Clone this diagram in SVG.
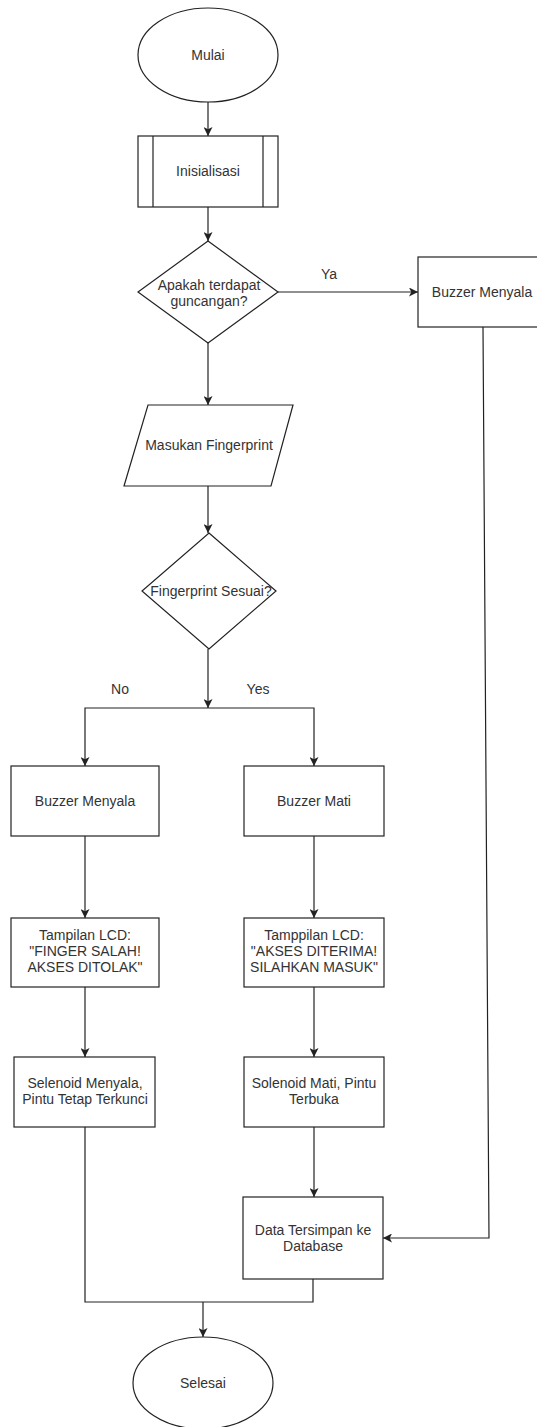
<svg xmlns="http://www.w3.org/2000/svg" width="537" height="1427" viewBox="0 0 537 1427">
<style>
.s{fill:#fff;stroke:#222;stroke-width:1.2}
.t{font-family:"Liberation Sans",Arial,sans-serif;font-size:14px;fill:#333;text-anchor:middle}
.c{fill:none;stroke:#222;stroke-width:1.2}
</style>
<defs>
<marker id="ah" viewBox="0 0 10 10" refX="10" refY="5" markerWidth="9" markerHeight="9" markerUnits="userSpaceOnUse" orient="auto">
<path d="M0,0 L10,5 L0,10 L2.5,5 z" fill="#222"/>
</marker>
</defs>
<rect width="537" height="1427" fill="#fff"/>
<g id="connectors">
<path class="c" d="M208,102 V136" marker-end="url(#ah)"/>
<path class="c" d="M208,207 V241" marker-end="url(#ah)"/>
<path class="c" d="M278,292 H418" marker-end="url(#ah)"/>
<path class="c" d="M208,343 V405" marker-end="url(#ah)"/>
<path class="c" d="M208,486 V533" marker-end="url(#ah)"/>
<path class="c" d="M208,649 V708" marker-end="url(#ah)"/>
<path class="c" d="M208,708 H85 V766" marker-end="url(#ah)"/>
<path class="c" d="M208,708 H314 V766" marker-end="url(#ah)"/>
<path class="c" d="M85,836 V918" marker-end="url(#ah)"/>
<path class="c" d="M85,987 V1057" marker-end="url(#ah)"/>
<path class="c" d="M314,836 V918" marker-end="url(#ah)"/>
<path class="c" d="M314,987 V1057" marker-end="url(#ah)"/>
<path class="c" d="M314,1127 V1197" marker-end="url(#ah)"/>
<path class="c" d="M483,327 L489,1238 H383" marker-end="url(#ah)"/>
<path class="c" d="M85,1127 V1302 H313 V1279"/>
<path class="c" d="M203,1302 V1337" marker-end="url(#ah)"/>
<text class="t" x="329" y="279">Ya</text>
<text class="t" x="120" y="694">No</text>
<text class="t" x="258" y="694">Yes</text>
</g>
<g id="mulai">
<ellipse class="s" cx="208" cy="55" rx="70" ry="47"/>
<text class="t" x="208" y="60">Mulai</text>
</g>
<g id="inisialisasi">
<rect class="s" x="138" y="136" width="140" height="71"/>
<path class="c" d="M153,136 V207 M263,136 V207"/>
<text class="t" x="208" y="176">Inisialisasi</text>
</g>
<g id="guncangan">
<polygon class="s" points="208,241 278,292 208,343 138,292"/>
<text class="t" x="209" y="290">Apakah terdapat</text>
<text class="t" x="209" y="306">guncangan?</text>
</g>
<g id="buzzer-ya">
<rect class="s" x="418" y="257" width="130" height="70"/>
<text class="t" x="482" y="297">Buzzer Menyala</text>
</g>
<g id="masukan">
<polygon class="s" points="148,405 293,405 271,486 124,486"/>
<text class="t" x="209" y="450">Masukan Fingerprint</text>
</g>
<g id="sesuai">
<polygon class="s" points="209,533 276,591 209,649 142,591"/>
<text class="t" x="211" y="596">Fingerprint Sesuai?</text>
</g>
<g id="buzzer-no">
<rect class="s" x="11" y="766" width="148" height="70"/>
<text class="t" x="85" y="806">Buzzer Menyala</text>
</g>
<g id="buzzer-mati">
<rect class="s" x="244" y="766" width="140" height="70"/>
<text class="t" x="314" y="806">Buzzer Mati</text>
</g>
<g id="lcd-no">
<rect class="s" x="11" y="918" width="148" height="69"/>
<text class="t" x="85" y="940">Tampilan LCD:</text>
<text class="t" x="85" y="956">"FINGER SALAH!</text>
<text class="t" x="85" y="972">AKSES DITOLAK"</text>
</g>
<g id="lcd-yes">
<rect class="s" x="244" y="918" width="140" height="69"/>
<text class="t" x="314" y="940">Tamppilan LCD:</text>
<text class="t" x="314" y="956">"AKSES DITERIMA!</text>
<text class="t" x="314" y="972">SILAHKAN MASUK"</text>
</g>
<g id="selenoid-no">
<rect class="s" x="14" y="1057" width="141" height="70"/>
<text class="t" x="85" y="1088">Selenoid Menyala,</text>
<text class="t" x="85" y="1104">Pintu Tetap Terkunci</text>
</g>
<g id="solenoid-yes">
<rect class="s" x="244" y="1057" width="140" height="70"/>
<text class="t" x="314" y="1088">Solenoid Mati, Pintu</text>
<text class="t" x="314" y="1104">Terbuka</text>
</g>
<g id="database">
<rect class="s" x="243" y="1197" width="140" height="82"/>
<text class="t" x="313" y="1235">Data Tersimpan ke</text>
<text class="t" x="313" y="1251">Database</text>
</g>
<g id="selesai">
<ellipse class="s" cx="203" cy="1383" rx="70" ry="46"/>
<text class="t" x="203" y="1388">Selesai</text>
</g>
</svg>
